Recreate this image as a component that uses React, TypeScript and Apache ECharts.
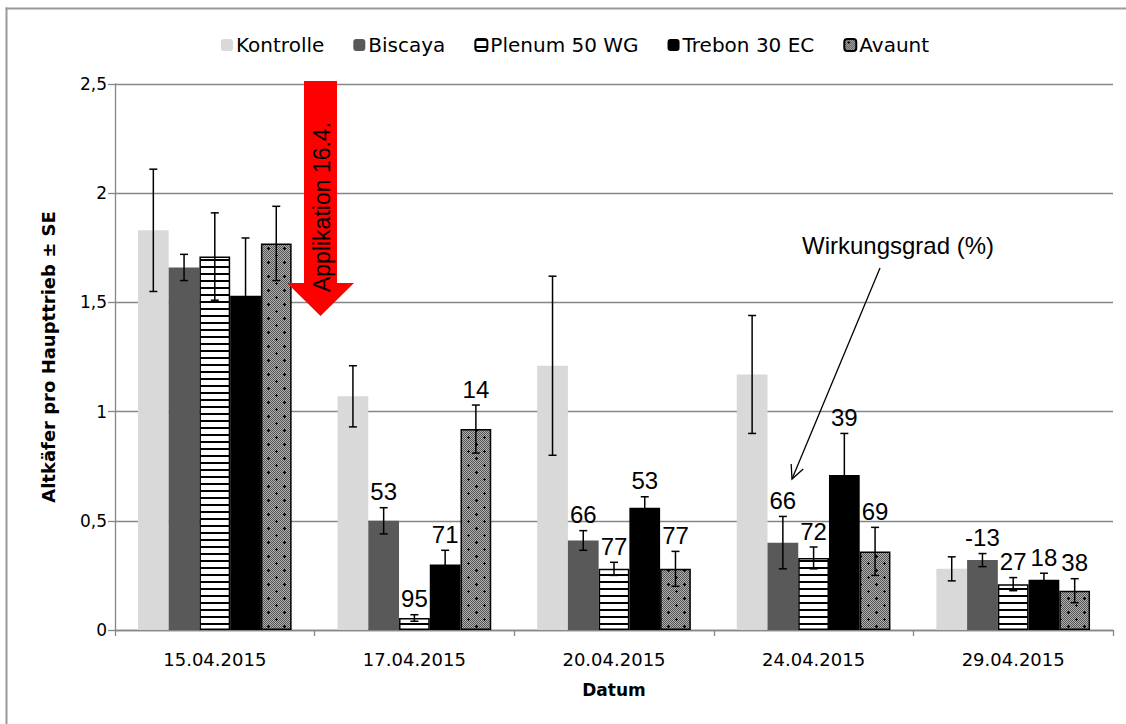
import React, { useEffect, useRef } from "react";
import * as echarts from "echarts";

const dates = ["15.04.2015", "17.04.2015", "20.04.2015", "24.04.2015", "29.04.2015"];
const seriesNames = ["Kontrolle", "Biscaya", "Plenum 50 WG", "Trebon 30 EC", "Avaunt"];

const kontrolle = [1.83, 1.07, 1.21, 1.17, 0.28];
const biscaya = [1.66, 0.5, 0.41, 0.4, 0.32];
const plenum = [1.71, 0.055, 0.28, 0.33, 0.21];
const trebon = [1.53, 0.3, 0.56, 0.71, 0.23];
const avaunt = [1.77, 0.92, 0.28, 0.36, 0.18];

const kontrolleSE = [0.28, 0.14, 0.41, 0.27, 0.055];
const biscayaSE = [0.06, 0.06, 0.045, 0.12, 0.03];
const plenumSE = [0.2, 0.015, 0.03, 0.05, 0.03];
const trebonSE = [0.265, 0.065, 0.05, 0.19, 0.03];
const avauntSE = [0.17, 0.11, 0.08, 0.11, 0.055];

// Wirkungsgrad (%) labels
const kontrolleLbl = ["", "", "", "", ""];
const biscayaLbl = ["", "53", "66", "66", "-13"];
const plenumLbl = ["", "95", "77", "72", "27"];
const trebonLbl = ["", "71", "53", "39", "18"];
const avauntLbl = ["", "14", "77", "69", "38"];

const yTicks = [0, 0.5, 1, 1.5, 2, 2.5];

const values = [kontrolle, biscaya, plenum, trebon, avaunt];
const ses = [kontrolleSE, biscayaSE, plenumSE, trebonSE, avauntSE];
const lbls = [kontrolleLbl, biscayaLbl, plenumLbl, trebonLbl, avauntLbl];

const AX_FONT = "DejaVu Sans";
const LBL_FONT = "Liberation Sans";
const CAT_GAP = 0.23;

function makeStripe(): HTMLCanvasElement {
  const c = document.createElement("canvas");
  c.width = 8;
  c.height = 7;
  const g = c.getContext("2d")!;
  g.fillStyle = "#ffffff";
  g.fillRect(0, 0, 8, 7);
  g.fillStyle = "#000000";
  g.fillRect(0, 0, 8, 2);
  return c;
}

function makeDots(): HTMLCanvasElement {
  const w = 16, h = 14;
  const c = document.createElement("canvas");
  c.width = w;
  c.height = h;
  const g = c.getContext("2d")!;
  for (let i = 0; i < w; i++) {
    for (let j = 0; j < h; j++) {
      g.fillStyle = (i + j) % 2 === 0 ? "#555555" : "#b0b0b0";
      g.fillRect(i, j, 1, 1);
    }
  }
  g.fillStyle = "#000000";
  const plus = (x: number, y: number) => {
    g.fillRect(x, y, 1, 1);
    g.fillRect(x - 1, y, 1, 1);
    g.fillRect(x + 1, y, 1, 1);
    g.fillRect(x, y - 1, 1, 1);
    g.fillRect(x, y + 1, 1, 1);
  };
  plus(4, 3);
  plus(12, 10);
  return c;
}

export default function App() {
  const ref = useRef<HTMLDivElement>(null);

  useEffect(() => {
    if (!ref.current) return;
    const chart = echarts.init(ref.current, null, { renderer: "svg" });

    const stripe = makeStripe();
    const dots = makeDots();

    const styles: any[] = [
      { color: "#d9d9d9" },
      { color: "#595959" },
      {
        color: { image: stripe, repeat: "repeat", imageWidth: 8, imageHeight: 7 },
        borderColor: "#000",
        borderWidth: 1.5,
      },
      { color: "#000000" },
      {
        color: { image: dots, repeat: "repeat", imageWidth: 16, imageHeight: 14 },
        borderColor: "#000",
        borderWidth: 1.5,
      },
    ];

    const barSeries = seriesNames.map((name, i) => ({
      name,
      type: "bar",
      data: values[i],
      barGap: "0%",
      barCategoryGap: CAT_GAP * 100 + "%",
      itemStyle: styles[i],
      emphasis: { disabled: true },
      z: 2,
    }));

    const errRows: { cat: number; s: number; v: number; se: number; lbl: string }[] = [];
    values.forEach((arr, s) => {
      arr.forEach((v, cat) => {
        errRows.push({ cat, s, v, se: ses[s][cat], lbl: lbls[s][cat] });
      });
    });

    const errSeries = {
      type: "custom",
      name: "err",
      data: errRows.map((r) => [r.cat, r.v + r.se]),
      encode: { x: 0, y: 1 },
      z: 5,
      silent: true,
      renderItem: (params: any, api: any) => {
        const r = errRows[params.dataIndex];
        const catW = api.size([1, 0])[0];
        const barW = (catW * (1 - CAT_GAP)) / 5;
        const top = api.coord([r.cat, r.v + r.se]);
        const bot = api.coord([r.cat, r.v - r.se]);
        const x = top[0] + (r.s - 2) * barW;
        const cap = 4;
        const ls = { stroke: "#000", lineWidth: 1.5 };
        const children: any[] = [
          { type: "line", shape: { x1: x, y1: top[1], x2: x, y2: bot[1] }, style: ls },
          { type: "line", shape: { x1: x - cap, y1: top[1], x2: x + cap, y2: top[1] }, style: ls },
          { type: "line", shape: { x1: x - cap, y1: bot[1], x2: x + cap, y2: bot[1] }, style: ls },
        ];
        if (r.lbl) {
          children.push({
            type: "text",
            x,
            y: top[1] - 4,
            style: {
              text: r.lbl,
              fontFamily: LBL_FONT,
              fontSize: 24,
              fill: "#000",
              align: "center",
              verticalAlign: "bottom",
              textAlign: "center",
              textVerticalAlign: "bottom",
            },
          });
        }
        return { type: "group", children };
      },
    };

    // annotation arrow geometry
    const ax1 = 880, ay1 = 268, ax2 = 792, ay2 = 479;
    const dx = ax1 - ax2, dy = ay1 - ay2;
    const len = Math.sqrt(dx * dx + dy * dy);
    const ux = dx / len, uy = dy / len;
    const hl = 15, ang = 0.45;
    const rot = (a: number) => [
      ax2 + hl * (ux * Math.cos(a) - uy * Math.sin(a)),
      ay2 + hl * (ux * Math.sin(a) + uy * Math.cos(a)),
    ];

    chart.setOption({
      animation: false,
      textStyle: { fontFamily: AX_FONT },
      legend: {
        data: seriesNames,
        top: 35,
        left: 221,
        padding: 0,
        itemWidth: 12,
        itemHeight: 12,
        itemGap: 29,
        selectedMode: false,
        textStyle: { fontFamily: AX_FONT, fontSize: 20, color: "#000", padding: [0, 0, 0, -2] },
      },
      grid: { left: 115, right: 13, top: 84, bottom: 94, containLabel: false },
      xAxis: {
        type: "category",
        data: dates,
        name: "Datum",
        nameLocation: "middle",
        nameGap: 51,
        nameTextStyle: { fontFamily: AX_FONT, fontSize: 17, fontWeight: "bold", color: "#000" },
        axisLine: { lineStyle: { color: "#868686", width: 1.3 } },
        axisTick: { show: true, length: 6, lineStyle: { color: "#868686", width: 1.3 } },
        axisLabel: { fontFamily: AX_FONT, fontSize: 18, color: "#000", margin: 20 },
      },
      yAxis: {
        type: "value",
        min: 0,
        max: 2.5,
        interval: 0.5,
        name: "Altkäfer pro Haupttrieb ± SE",
        nameLocation: "middle",
        nameRotate: 90,
        nameGap: 58,
        nameTextStyle: { fontFamily: AX_FONT, fontSize: 18, fontWeight: "bold", color: "#000" },
        axisLine: { show: true, lineStyle: { color: "#868686", width: 1.3 } },
        axisTick: { show: true, length: 7, lineStyle: { color: "#868686", width: 1.3 } },
        splitLine: { show: true, lineStyle: { color: "#868686", width: 1.3 } },
        axisLabel: {
          fontFamily: AX_FONT,
          fontSize: 17,
          color: "#000",
          margin: 8,
          formatter: (v: number) => (yTicks.includes(v) ? String(v).replace(".", ",") : ""),
        },
      },
      series: [...barSeries, errSeries],
      graphic: [
        {
          type: "line",
          silent: true,
          z: -10,
          shape: { x1: 5.5, y1: 8.5, x2: 1130, y2: 8.5 },
          style: { stroke: "#9a9a9a", lineWidth: 2 },
        },
        {
          type: "line",
          silent: true,
          z: -10,
          shape: { x1: 6.5, y1: 7.5, x2: 6.5, y2: 730 },
          style: { stroke: "#9a9a9a", lineWidth: 2 },
        },
        {
          type: "polygon",
          silent: true,
          z: 10,
          shape: {
            points: [
              [304, 81],
              [337, 81],
              [337, 283],
              [354, 283],
              [320.5, 316],
              [287, 283],
              [304, 283],
            ],
          },
          style: { fill: "#ff0000" },
        },
        {
          type: "text",
          silent: true,
          z: 11,
          x: 322,
          y: 207,
          rotation: Math.PI / 2,
          style: {
            text: "Applikation 16.4.",
            fontFamily: LBL_FONT,
            fontSize: 23,
            fill: "#000",
            align: "center",
            verticalAlign: "middle",
            textAlign: "center",
            textVerticalAlign: "middle",
          },
        },
        {
          type: "text",
          silent: true,
          z: 11,
          x: 898,
          y: 245,
          style: {
            text: "Wirkungsgrad (%)",
            fontFamily: LBL_FONT,
            fontSize: 24,
            fill: "#000",
            align: "center",
            verticalAlign: "middle",
            textAlign: "center",
            textVerticalAlign: "middle",
          },
        },
        {
          type: "line",
          silent: true,
          z: 11,
          shape: { x1: ax1, y1: ay1, x2: ax2, y2: ay2 },
          style: { stroke: "#000", lineWidth: 1.3 },
        },
        {
          type: "polyline",
          silent: true,
          z: 11,
          shape: { points: [rot(ang), [ax2, ay2], rot(-ang)] },
          style: { stroke: "#000", lineWidth: 1.3, fill: "none" },
        },
      ],
    });

    return () => chart.dispose();
  }, []);

  return (
    <div
      ref={ref}
      style={{ position: "fixed", left: 0, top: 0, width: 1126, height: 724, background: "#fff" }}
    />
  );
}
